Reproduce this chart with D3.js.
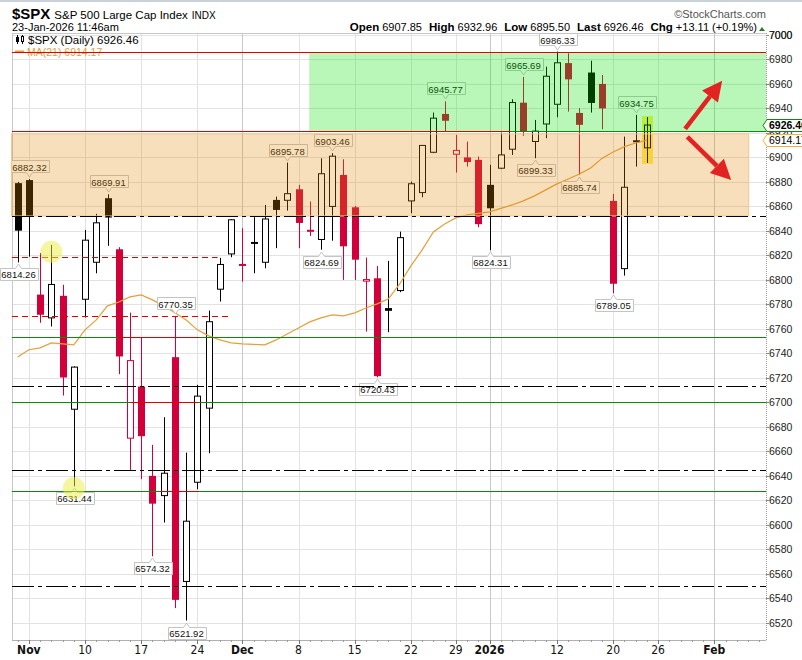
<!DOCTYPE html>
<html>
<head>
<meta charset="utf-8">
<script src="https://d3js.org/d3.v7.min.js"></script>
<style>
  body { margin: 0; background: #fff; }
  text { font-family: "Liberation Sans", Arial, sans-serif; }
</style>
</head>
<body>
<div id="chart"></div>
<script>
// daily bars, Oct 31 2025 .. Jan 23 2026
var dates = ["Oct 31","Nov 3","Nov 4","Nov 5","Nov 6","Nov 7","Nov 10","Nov 11","Nov 12","Nov 13","Nov 14",
  "Nov 17","Nov 18","Nov 19","Nov 20","Nov 21","Nov 24","Nov 25","Nov 26","Nov 28","Dec 1","Dec 2","Dec 3",
  "Dec 4","Dec 5","Dec 8","Dec 9","Dec 10","Dec 11","Dec 12","Dec 15","Dec 16","Dec 17","Dec 18","Dec 19",
  "Dec 22","Dec 23","Dec 24","Dec 26","Dec 29","Dec 30","Dec 31","Jan 2","Jan 5","Jan 6","Jan 7","Jan 8",
  "Jan 9","Jan 12","Jan 13","Jan 14","Jan 15","Jan 16","Jan 20","Jan 21","Jan 22","Jan 23"];
var opens = [6879,6881.5,6788,6769,6787,6694.4,6784.2,6814.4,6866.7,6825,6670.8,
  6712.9,6640,6623.9,6736.9,6553.8,6634.8,6695.3,6792.4,6821.2,6811.8,6831,6814.4,
  6865.3,6865,6874,6840,6833,6860,6885.7,6859.3,6799,6801.3,6777,6791.3,
  6864.5,6871.3,6904.2,6935.5,6902.6,6900,6898,6877.6,6891.2,6906.7,6944.7,6913,
  6927.3,6943.4,6977,6936.3,6969.3,6960,6864.5,6809.2,6914,6907.85];
var highs = [6880,6882.32,6822,6828.6,6796,6729.5,6840.8,6853.9,6869.91,6826.7,6773.3,
  6753.2,6665.3,6687.9,6770.35,6659,6714.3,6775,6818,6849.5,6842.2,6851.2,6861.2,
  6868,6895.78,6877.6,6864,6899.3,6903.46,6898.5,6860.4,6818.2,6811.4,6815.5,6839.4,
  6880.3,6910.2,6936.6,6945.77,6918.4,6912.9,6900.7,6893.9,6920.2,6947.5,6965.69,6930.6,
  6974.1,6986.33,6985,6940.2,6979,6967.3,6870.2,6917,6934.75,6932.96];
var lows = [6814.26,6819,6765,6762,6705.6,6631.44,6769.3,6805.4,6827.8,6723,6644.9,
  6637.3,6574.32,6601.9,6532,6521.92,6629.1,6658.5,6782.3,6818.5,6798.6,6805.4,6809.5,
  6825.9,6856.6,6825.9,6835.9,6824.69,6832,6800,6800,6757.8,6720.43,6757.3,6790,
  6854.4,6867.5,6903.5,6921,6887.6,6892.5,6843,6824.31,6890.5,6902,6917.6,6899.33,
  6915.7,6932.8,6937.4,6885.74,6936.6,6923,6789.05,6803.5,6892.5,6895.50];
var closes = [6840.20,6851.97,6771.55,6796.29,6720.32,6728.80,6832.43,6846.61,6850.92,6737.49,6734.11,
  6672.41,6617.32,6642.16,6538.76,6602.99,6705.12,6765.88,6812.61,6849.09,6812.63,6829.37,6849.72,
  6857.12,6870.40,6846.51,6840.51,6886.68,6901.00,6827.41,6816.51,6800.26,6721.43,6774.76,6834.50,
  6878.49,6909.79,6932.05,6929.94,6905.74,6896.24,6845.50,6858.47,6902.05,6944.82,6920.93,6921.46,
  6966.28,6977.27,6963.74,6926.60,6944.47,6940.01,6796.86,6875.62,6913.35,6926.46];
var ma21 = [6737,6743,6744.5,6748.6,6747.8,6747,6759.2,6767.3,6778.8,6782,6786.1,
  6787.8,6783.7,6778.8,6773.1,6767.3,6759.2,6754.3,6751,6748.6,6747.8,6747.3,6747,
  6751,6755.9,6760.8,6765.7,6769,6771.4,6770.6,6773.1,6777.1,6780.4,6784.5,6796.7,
  6811.4,6824.5,6839.2,6845.7,6850.6,6853.1,6854.3,6855.5,6858.4,6861.2,6864.5,6868.6,
  6873.5,6878.4,6882.4,6886.5,6891.4,6899.2,6904.5,6908.8,6911.8,6914.17];
var prevClose = 6822.34;

var tickIdx = [1,6,11,16,20,25,30,35,39,42,48,53,57,62];
var tickLabels = ["Nov","10","17","24","Dec","8","15","22","29","2026","12","20","26","Feb"];
var boldTicks = ["Nov","Dec","2026","Feb"];
var gridIdx = [1,6,11,16,20,25,30,35,39,42,43,48,53,57,62];
var monthIdx = [20,42,62];
var priceTicks = d3.range(6520, 7001, 20);

var hiLabels = [1,8,14,24,28,38,45,48,55];
var loLabels = [0,5,12,15,27,32,42,46,50,53];

var greenZone = [6921.6, 6986.1, 25.95];
var orangeZone = [6852.2, 6919.2, 65.06];
var greenLines = [6753.2, 6700.2, 6627.8];
var dashDotLines = [6852.2, 6713.5, 6644.9, 6550];
var redLines = [6986.33, 6921.6];
var redDashed = [[6818.5, 17.8], [6770.35, 18.8]];
var redSegs = [[6753.2, 8.9, 16.2], [6700.2, 10, 16.1], [6627.8, 12.7, 16.1]];
var circles = [[3, 6823], [5, 6630]];
var arrows = [[59.4, 6923.3, 62.7, 6962.7], [59.6, 6916.7, 63.5, 6881.6]];

var W = 802, H = 660;
var L = 12, R = 766, T = 33, B = 640;
var red = "#d2003a";

var svg = d3.select("#chart").append("svg")
  .attr("width", W).attr("height", H);

var x = d3.scaleLinear().domain([-0.5, 66.6]).range([L, R]);
var y = d3.scaleLinear().domain([6506, 7002.4]).range([B, 32]);
function px(v) { return Math.round(v) + 0.5; }

svg.append("rect").attr("x", 0).attr("y", 0).attr("width", W).attr("height", 2).attr("fill", "#c9d2da");

// grid
var grid = svg.append("g");
priceTicks.forEach(function(v) {
  grid.append("line").attr("x1", L).attr("x2", R).attr("y1", px(y(v))).attr("y2", px(y(v)))
    .attr("stroke", "#e3e3e3");
});
gridIdx.forEach(function(i) {
  grid.append("line").attr("x1", px(x(i))).attr("x2", px(x(i))).attr("y1", T).attr("y2", B)
    .attr("stroke", monthIdx.indexOf(i) >= 0 ? "#c8c8c8" : "#e3e3e3");
});
svg.append("line").attr("x1", L + 0.5).attr("x2", L + 0.5).attr("y1", T).attr("y2", B).attr("stroke", "#c8c8c8");
svg.append("line").attr("x1", L).attr("x2", R).attr("y1", T + 0.5).attr("y2", T + 0.5).attr("stroke", "#c8c8c8");
svg.append("line").attr("x1", L).attr("x2", R).attr("y1", B + 0.5).attr("y2", B + 0.5).attr("stroke", "#b0b0b0");
svg.append("line").attr("x1", R + 0.5).attr("x2", R + 0.5).attr("y1", T).attr("y2", B)
  .attr("stroke", "#999").attr("stroke-dasharray", "1,1");

// yellow highlight on the last bar
var last = dates.length - 1;
svg.append("rect").attr("x", Math.round(x(last)) - 5).attr("y", y(highs[last]) - 1)
  .attr("width", 11).attr("height", y(lows[last]) - y(highs[last]) + 2)
  .attr("fill", "#fff05a");

// candles
var cg = svg.append("g");
dates.forEach(function(d, i) {
  var o = opens[i], c = closes[i], pc = i ? closes[i - 1] : prevClose;
  var col = c >= pc ? "#000" : red;
  var xi = Math.round(x(i));
  cg.append("line").attr("x1", xi + 0.5).attr("x2", xi + 0.5)
    .attr("y1", y(highs[i])).attr("y2", y(lows[i])).attr("stroke", col);
  var top = y(Math.max(o, c)), bot = y(Math.min(o, c));
  if (c > o) {
    cg.append("rect").attr("x", xi - 2.5).attr("y", top).attr("width", 6)
      .attr("height", Math.max(bot - top, 1))
      .attr("fill", i === last ? "none" : "#fff").attr("stroke", col);
  } else {
    cg.append("rect").attr("x", xi - 3).attr("y", top).attr("width", 7)
      .attr("height", Math.max(bot - top, 2)).attr("fill", col);
  }
});

// MA(21)
svg.append("path").datum(ma21)
  .attr("fill", "none").attr("stroke", "#e5a03a").attr("stroke-width", 1.2)
  .attr("d", d3.line().x(function(d, i) { return x(i); }).y(function(d) { return y(d); }));

// value bubbles
var lab = svg.append("g");
function bubble(i, v, above) {
  var cx = px(x(i)), p = above ? y(highs[i]) : y(lows[i]);
  var t = lab.append("text").text(v.toFixed(2)).attr("font-size", 9.5).attr("fill", "#111")
    .attr("text-anchor", "middle");
  var w = Math.round(t.node().getComputedTextLength()) + 4, h = 12;
  var tip = above ? Math.round(p) - 2 : Math.round(p) + 2;
  var edge = above ? tip - 4 : tip + 4;
  var far = above ? edge - h : edge + h;
  var l = Math.round(cx - w / 2) + 0.5, r = l + w;
  var e = edge + (above ? -0.5 : 0.5), f = far + (above ? -0.5 : 0.5);
  lab.insert("path", "text")
    .attr("d", "M" + l + "," + e + "L" + (cx - 3) + "," + e + "L" + cx + "," + tip + "L" + (cx + 3) + "," + e +
      "L" + r + "," + e + "L" + r + "," + f + "L" + l + "," + f + "Z")
    .attr("fill", "#fff").attr("stroke", "#c4c4c4");
  t.attr("x", cx).attr("y", (edge + far) / 2 + 3.5);
}
hiLabels.forEach(function(i) { bubble(i, highs[i], true); });
loLabels.forEach(function(i) { bubble(i, lows[i], false); });

// legend
var lg = svg.append("g");
lg.append("line").attr("x1", 17.5).attr("x2", 17.5).attr("y1", 35).attr("y2", 44).attr("stroke", "#000");
lg.append("rect").attr("x", 16).attr("y", 37).attr("width", 3).attr("height", 5).attr("fill", "#000");
lg.append("line").attr("x1", 22.5).attr("x2", 22.5).attr("y1", 35).attr("y2", 44).attr("stroke", "#000");
lg.append("rect").attr("x", 21.5).attr("y", 36.5).attr("width", 2).attr("height", 5).attr("fill", "#fff").attr("stroke", "#000");
lg.append("text").attr("x", 28).attr("y", 44).attr("font-size", 11.5).attr("fill", "#000")
  .text("$SPX (Daily) " + closes[last].toFixed(2));
lg.append("line").attr("x1", 15).attr("x2", 24).attr("y1", 51.5).attr("y2", 51.5)
  .attr("stroke", "#e5a03a").attr("stroke-width", 2);
lg.append("text").attr("x", 27).attr("y", 56).attr("font-size", 10.5).attr("fill", "#e5a03a")
  .text("MA(21) " + ma21[last].toFixed(2));

// zones
svg.append("rect").attr("x", x(greenZone[2])).attr("y", y(greenZone[1]))
  .attr("width", R - x(greenZone[2])).attr("height", y(greenZone[0]) - y(greenZone[1]))
  .attr("fill", "rgb(0,225,0)").attr("fill-opacity", 0.28);
svg.append("rect").attr("x", x(-0.55)).attr("y", y(orangeZone[1]))
  .attr("width", x(orangeZone[2]) - x(-0.55)).attr("height", y(orangeZone[0]) - y(orangeZone[1]))
  .attr("fill", "rgb(222,137,0)").attr("fill-opacity", 0.27)
  .attr("stroke", "#f0c890");

// horizontal lines
var hl = svg.append("g");
function hline(v, i0, i1, col, dash) {
  var l = hl.append("line").attr("x1", i0 == null ? L : x(i0)).attr("x2", i1 == null ? R : x(i1))
    .attr("y1", px(y(v))).attr("y2", px(y(v))).attr("stroke", col);
  if (dash) l.attr("stroke-dasharray", dash);
}
greenLines.forEach(function(v) { hline(v, null, null, "#0a8a0a"); });
redSegs.forEach(function(s) { hline(s[0], s[1], s[2], "#e00000"); });
dashDotLines.forEach(function(v) { hline(v, null, null, "#000", "22,4,4,4"); });
redLines.forEach(function(v) { hline(v, null, null, "#e00000"); });
hline(greenZone[0], 43.8, null, "#0a8a0a");
redDashed.forEach(function(s) { hline(s[0], null, s[1], "#e00000", "6,4"); });

// highlight circles
circles.forEach(function(c) {
  svg.append("circle").attr("cx", x(c[0])).attr("cy", y(c[1])).attr("r", 11)
    .attr("fill", "#eeee44").attr("fill-opacity", 0.5);
});

// arrows
arrows.forEach(function(a) {
  var x1 = x(a[0]), y1 = y(a[1]), x2 = x(a[2]), y2 = y(a[3]);
  var dx = x2 - x1, dy = y2 - y1, len = Math.sqrt(dx * dx + dy * dy);
  var ux = dx / len, uy = dy / len, hl2 = 20, hw = 10;
  var bx = x2 - ux * hl2, by = y2 - uy * hl2;
  svg.append("line").attr("x1", x1).attr("y1", y1).attr("x2", bx).attr("y2", by)
    .attr("stroke", "#e32222").attr("stroke-width", 4.5);
  svg.append("path").attr("d", "M" + x2 + "," + y2 + "L" + (bx - uy * hw) + "," + (by + ux * hw) +
      "L" + (bx + uy * hw) + "," + (by - ux * hw) + "Z").attr("fill", "#e32222");
});

// right axis
var ax = svg.append("g");
priceTicks.concat([7000]).forEach(function(v) {
  ax.append("line").attr("x1", R).attr("x2", R + 3).attr("y1", px(y(v))).attr("y2", px(y(v))).attr("stroke", "#888");
  ax.append("text").attr("x", R + 3).attr("y", y(v) + 4).attr("font-size", 10.5).attr("fill", "#222").text(v);
});
function tag(v, col, bold) {
  var yy = Math.round(y(v)) + 0.5;
  ax.append("path").attr("d", "M" + (R - 3) + "," + yy + "L" + (R + 1) + "," + (yy - 6) + "L" + 810 + "," + (yy - 6) +
      "L" + 810 + "," + (yy + 6) + "L" + (R + 1) + "," + (yy + 6) + "Z")
    .attr("fill", "#fff").attr("stroke", col);
  ax.append("text").attr("x", R + 3).attr("y", yy + 3.5).attr("font-size", 10.5)
    .attr("font-weight", bold ? "bold" : "normal").attr("fill", "#000").text(v.toFixed(2));
}
tag(ma21[last], "#f0b040", false);
tag(closes[last], "#0a8a0a", true);

// bottom axis
var bx = svg.append("g");
d3.range(0, 67).forEach(function(i) {
  bx.append("line").attr("x1", px(x(i))).attr("x2", px(x(i))).attr("y1", B).attr("y2", B + 2).attr("stroke", "#999");
});
tickIdx.forEach(function(i, k) {
  var b = boldTicks.indexOf(tickLabels[k]) >= 0;
  bx.append("line").attr("x1", px(x(i))).attr("x2", px(x(i))).attr("y1", B).attr("y2", B + 4).attr("stroke", "#777");
  bx.append("text").attr("x", x(i)).attr("y", 654).attr("text-anchor", "middle")
    .attr("font-size", 12).attr("font-weight", b ? "bold" : "normal")
    .style("font-family", "'Liberation Sans Narrow','DejaVu Sans Condensed',sans-serif")
    .attr("fill", "#111").text(tickLabels[k]);
});

// header
var hd = svg.append("g");
var t1 = hd.append("text").attr("x", 12).attr("y", 19).attr("fill", "#000");
t1.append("tspan").attr("font-size", 15).attr("font-weight", "bold").text("$SPX");
t1.append("tspan").attr("dx", 4).attr("font-size", 11.5).text("S&P 500 Large Cap Index");
t1.append("tspan").attr("dx", 4).attr("font-size", 10).text("INDX");
hd.append("text").attr("x", 12).attr("y", 31).attr("font-size", 11).attr("fill", "#000").text("23-Jan-2026 11:46am");
hd.append("text").attr("x", 766).attr("y", 18).attr("text-anchor", "end").attr("font-size", 11)
  .attr("fill", "#555").text("\u00A9StockCharts.com");
var hv = [["Open", opens[last].toFixed(2)], ["High", highs[last].toFixed(2)], ["Low", lows[last].toFixed(2)],
  ["Last", closes[last].toFixed(2)], ["Chg", "+13.11 (+0.19%)"]];
var t2 = hd.append("text").attr("x", 757).attr("y", 31).attr("text-anchor", "end").attr("font-size", 11).attr("fill", "#000");
hv.forEach(function(p, k) {
  t2.append("tspan").attr("dx", k ? 7 : 0).attr("font-weight", "bold").attr("font-size", 11.5).text(p[0]);
  t2.append("tspan").attr("dx", 3).text(p[1]);
});
hd.append("path").attr("d", "M759,31L762,27L765,31Z").attr("fill", "#2a7a2a");
</script>
</body>
</html>
